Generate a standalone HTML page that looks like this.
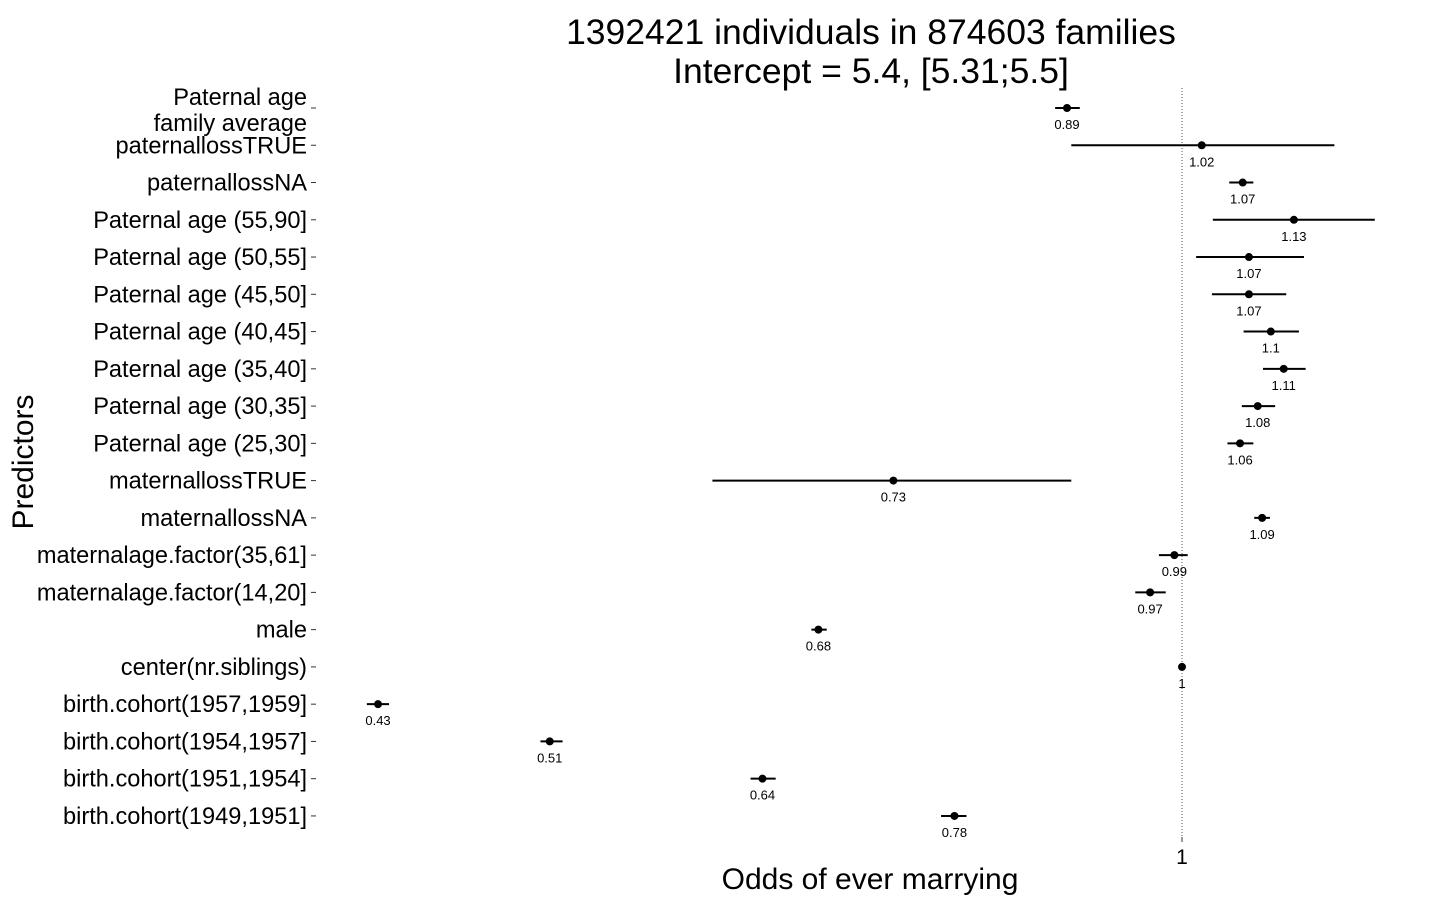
<!DOCTYPE html>
<html><head><meta charset="utf-8"><style>
html,body{margin:0;padding:0;background:#fff;}
svg{display:block;font-family:"Liberation Sans",sans-serif;}
</style></head><body>
<svg id="chart" width="1440" height="900" xmlns="http://www.w3.org/2000/svg">
<text x="871" y="44" font-size="35.5" text-anchor="middle">1392421 individuals in 874603 families</text>
<text x="871" y="83" font-size="35.5" text-anchor="middle">Intercept = 5.4, [5.31;5.5]</text>
<text transform="translate(33,462) rotate(-90)" font-size="30" text-anchor="middle">Predictors</text>
<text x="870" y="889" font-size="30" text-anchor="middle">Odds of ever marrying</text>
<g id="plot"></g>
</svg>
<script>
const categories=["Paternal age\nfamily average","paternallossTRUE","paternallossNA","Paternal age (55,90]","Paternal age (50,55]","Paternal age (45,50]","Paternal age (40,45]","Paternal age (35,40]","Paternal age (30,35]","Paternal age (25,30]","maternallossTRUE","maternallossNA","maternalage.factor(35,61]","maternalage.factor(14,20]","male","center(nr.siblings)","birth.cohort(1957,1959]","birth.cohort(1954,1957]","birth.cohort(1951,1954]","birth.cohort(1949,1951]"];
const estimates=[0.886,1.021,1.066,1.125,1.073,1.073,1.098,1.113,1.083,1.063,0.738,1.088,0.992,0.967,0.682,1,0.429,0.514,0.643,0.787];
const lower=[0.875,0.890,1.051,1.033,1.015,1.032,1.067,1.089,1.065,1.049,0.610,1.079,0.976,0.952,0.677,1,0.424,0.509,0.635,0.776];
const upper=[0.898,1.174,1.078,1.225,1.137,1.116,1.131,1.139,1.103,1.078,0.890,1.097,1.006,0.983,0.688,1,0.434,0.521,0.652,0.797];
const printed=["0.89","1.02","1.07","1.13","1.07","1.07","1.1","1.11","1.08","1.06","0.73","1.09","0.99","0.97","0.68","1","0.43","0.51","0.64","0.78"];
const xTicks=[1];
const NS="http://www.w3.org/2000/svg";
const g=document.getElementById('plot');
function xs(v){return 1182+950*Math.log(v);}
function ys(i){return 108+i*37.26;}
function mk(t,a){const e=document.createElementNS(NS,t);for(const k in a)e.setAttribute(k,a[k]);g.appendChild(e);return e;}
const ref=mk('line',{x1:xs(1),x2:xs(1),y1:88,y2:840,stroke:'#555','stroke-width':1,'stroke-dasharray':'1,2'});


xTicks.forEach(t=>{
 const tk=mk('line',{x1:xs(t),x2:xs(t),y1:837,y2:842,stroke:'#333'});
 
 
 const tl=mk('text',{x:xs(t),y:864,'font-size':21,'text-anchor':'middle'});tl.textContent=String(t);
 
 
});
categories.forEach((c,i)=>{
 const y=ys(i);
 const lines=c.split("\n");
 const lab=mk('text',{x:307,'font-size':23.6,'text-anchor':'end'});
 
 
 if(lines.length===1){lab.setAttribute('y',y+8);lab.textContent=c;}
 else{lines.forEach((l,j)=>{const ts=document.createElementNS(NS,'tspan');ts.setAttribute('x',307);ts.setAttribute('y',y-3+j*26);ts.textContent=l;lab.appendChild(ts);});}
 const tk=mk('line',{x1:311,x2:316,y1:y,y2:y,stroke:'#333'});
 
 
 const ci=mk('line',{x1:xs(lower[i]),x2:xs(upper[i]),y1:y,y2:y,stroke:'#000','stroke-width':2});
 
 
 const pt=mk('circle',{cx:xs(estimates[i]),cy:y,r:4,fill:'#000'});
 
 
 const vl=mk('text',{x:xs(estimates[i]),y:y+21,'font-size':13,'text-anchor':'middle'});vl.textContent=printed[i];
 
 
});
</script>
</body></html>
